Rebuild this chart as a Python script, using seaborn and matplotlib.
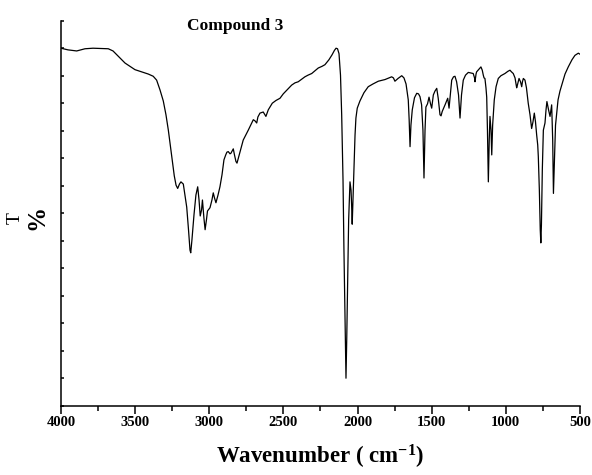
import numpy as np
import pandas as pd
import seaborn as sns
import matplotlib
matplotlib.use("Agg")
import matplotlib.pyplot as plt
from matplotlib.ticker import MultipleLocator

# IR spectrum of compound 3: wavenumber (cm-1) and transmittance (arbitrary %T scale)
wavenumber = [
    4000, 3953, 3894, 3838, 3784, 3681, 3649, 3616, 3568, 3501,
    3411, 3378, 3355, 3332, 3310, 3292, 3276, 3253, 3236, 3224,
    3213, 3201, 3191, 3175, 3164, 3152, 3140, 3130, 3125, 3117,
    3103, 3090, 3078, 3069, 3061, 3052, 3046, 3036, 3028, 3019,
    3012, 2995, 2982, 2973, 2965, 2955, 2941, 2928, 2914, 2901,
    2889, 2881, 2872, 2860, 2854, 2838, 2830, 2820, 2813, 2804,
    2786, 2771, 2737, 2703, 2692, 2680, 2672, 2658, 2636, 2618,
    2602, 2575, 2550, 2523, 2501, 2476, 2444, 2422, 2400, 2375,
    2355, 2334, 2309, 2287, 2265, 2240, 2220, 2193, 2172, 2156,
    2145, 2135, 2125, 2115, 2107, 2098, 2092, 2083, 2078, 2073,
    2067, 2060, 2051, 2044, 2040, 2036, 2031, 2025, 2017, 2011,
    2002, 1984, 1957, 1928, 1896, 1860, 1815, 1770, 1758, 1748,
    1727, 1702, 1687, 1673, 1658, 1652, 1646, 1640, 1631, 1616,
    1601, 1589, 1579, 1568, 1559, 1552, 1545, 1539, 1528, 1518,
    1508, 1500, 1489, 1478, 1466, 1456, 1444, 1437, 1429, 1410,
    1392, 1383, 1373, 1365, 1353, 1343, 1332, 1319, 1309, 1299,
    1287, 1272, 1253, 1235, 1220, 1211, 1208, 1201, 1197, 1181,
    1168, 1159, 1152, 1147, 1141, 1134, 1129, 1124, 1118, 1112,
    1107, 1100, 1095, 1089, 1078, 1066, 1051, 1033, 1006, 986,
    972, 962, 950, 938, 927, 922, 911, 901, 893, 888,
    882, 871, 861, 849, 837, 826, 817, 808, 800, 792,
    785, 781, 774, 768, 764, 760, 754, 747, 736, 729,
    723, 712, 702, 696, 691, 684, 679, 672, 665, 657,
    648, 635, 623, 601, 579, 554, 534, 511, 500,
]
transmittance = [
    65.0, 64.7, 64.5, 64.9, 65.0, 64.9, 64.5, 63.6, 62.3, 61.1,
    60.3, 59.9, 59.2, 57.4, 55.4, 52.9, 50.1, 45.4, 41.8, 40.1,
    39.5, 40.3, 40.7, 40.3, 38.3, 36.1, 32.0, 28.3, 27.8, 30.1,
    34.7, 38.3, 39.8, 37.4, 34.5, 35.6, 37.4, 34.1, 32.0, 33.8,
    35.4, 36.0, 37.4, 38.7, 37.8, 36.9, 38.3, 39.8, 42.0, 44.7,
    45.6, 46.1, 46.2, 45.8, 45.9, 46.7, 45.6, 44.4, 44.1, 45.0,
    46.8, 48.3, 50.1, 52.0, 51.8, 51.4, 52.5, 53.2, 53.4, 52.6,
    53.8, 55.0, 55.5, 55.9, 56.7, 57.4, 58.3, 58.7, 58.9, 59.4,
    59.8, 60.1, 60.4, 60.9, 61.4, 61.7, 62.0, 62.9, 63.8, 64.6,
    65.0, 64.9, 64.0, 60.1, 52.9, 41.0, 28.7, 13.8, 5.0, 12.0,
    22.5, 33.8, 40.7, 39.2, 36.5, 33.0, 37.4, 42.9, 49.2, 52.3,
    54.1, 55.4, 56.9, 58.0, 58.5, 59.0, 59.3, 59.8, 59.6, 59.0,
    59.5, 60.0, 59.6, 58.5, 55.6, 52.0, 47.1, 51.0, 53.8, 56.0,
    56.8, 56.7, 56.2, 54.7, 50.1, 41.4, 50.1, 54.3, 54.9, 56.1,
    54.9, 54.1, 56.5, 57.2, 57.7, 55.9, 52.9, 52.7, 53.5, 54.7,
    55.9, 54.1, 57.0, 59.2, 59.8, 59.9, 58.9, 56.5, 52.3, 56.5,
    59.2, 60.1, 60.6, 60.5, 60.4, 59.6, 58.9, 60.3, 60.7, 61.2,
    61.6, 61.0, 60.1, 59.6, 59.5, 57.8, 56.1, 50.1, 40.7, 48.3,
    52.6, 50.1, 45.6, 51.0, 55.6, 58.0, 59.5, 60.0, 60.4, 60.8,
    61.0, 60.7, 60.4, 59.6, 57.8, 58.3, 59.5, 58.9, 58.0, 58.9,
    59.5, 59.2, 57.8, 55.0, 52.9, 50.4, 51.6, 53.2, 51.6, 49.2,
    47.4, 45.3, 39.2, 32.0, 29.6, 32.9, 42.9, 50.1, 51.4, 53.8,
    55.3, 53.8, 52.6, 53.8, 54.7, 48.3, 38.6, 44.7, 51.0, 53.2,
    55.6, 57.2, 58.3, 60.3, 61.6, 62.9, 63.7, 64.1, 63.9,
]

x_ticks = [4000, 3500, 3000, 2500, 2000, 1500, 1000, 500]
title_text = "Compound 3"
x_label = r"Wavenumber ( cm$^{\mathbf{-1}}$)"

sns.set_theme(style="ticks")
plt.rcParams["font.family"] = ["Liberation Serif", "DejaVu Serif"]
plt.rcParams["mathtext.fontset"] = "custom"
plt.rcParams["mathtext.rm"] = "Liberation Serif:bold"
plt.rcParams["mathtext.bf"] = "Liberation Serif:bold"
plt.rcParams["mathtext.it"] = "Liberation Serif:bold:italic"

spectrum = pd.DataFrame({"wavenumber": wavenumber, "T": transmittance})

fig = plt.figure(figsize=(5.92, 4.75), dpi=100)
ax = fig.add_axes([0.1030, 0.1459, 0.8767, 0.8105])

sns.lineplot(data=spectrum, x="wavenumber", y="T", sort=False, estimator=None,
             color="black", linewidth=0.9, ax=ax)

ax.set_xlim(4000, 500)
ax.set_ylim(0, 70)
ax.set_xticks(x_ticks)
ax.set_xticklabels([str(t) for t in x_ticks], fontweight="bold", fontsize=10.5)
ax.xaxis.set_minor_locator(MultipleLocator(250))
ax.yaxis.set_major_locator(MultipleLocator(5))
ax.set_yticklabels([])

for side in ("top", "right"):
    ax.spines[side].set_visible(False)
for side in ("left", "bottom"):
    ax.spines[side].set_linewidth(1.1)
    ax.spines[side].set_color("black")

ax.tick_params(axis="x", which="major", direction="out", length=5.5, width=1.1,
               pad=2.0, colors="black")
ax.tick_params(axis="x", which="minor", direction="out", length=3.6, width=1.1,
               colors="black")
ax.tick_params(axis="y", which="major", direction="in", length=2.5, width=1.1,
               colors="black")

ax.set_xlabel(x_label, fontsize=16.5, fontweight="bold", labelpad=10, color="black")
ax.set_ylabel("")

ax.text(0.335, 0.976, title_text, transform=ax.transAxes, ha="center",
        va="baseline", fontsize=12.5, fontweight="bold", color="black")

# rotated "T%" axis caption
fig.text(15 / 592, 1 - 218 / 475, "T", rotation=90, ha="center", va="center",
         fontsize=14, color="black")
fig.text(37 / 592, 1 - 217 / 475, "%", rotation=90, ha="center", va="center",
         fontsize=18, fontweight="bold", color="black")

fig.savefig("out.png", dpi=100, facecolor="white")
